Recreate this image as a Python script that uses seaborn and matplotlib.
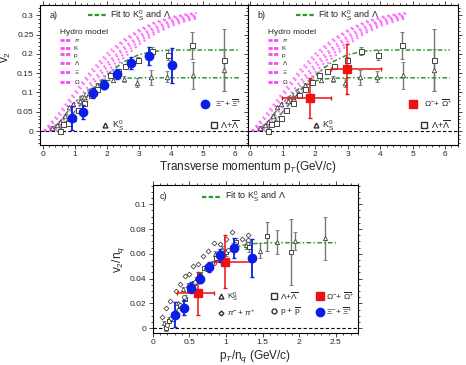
import numpy as np
import pandas as pd
import matplotlib.pyplot as plt
import seaborn as sns
from matplotlib.lines import Line2D

sns.set_theme(style="ticks")
plt.rcParams['font.family'] = ['Liberation Sans', 'DejaVu Sans']
plt.rcParams['mathtext.fontset'] = 'custom'
plt.rcParams['mathtext.rm'] = 'Liberation Sans'
plt.rcParams['mathtext.it'] = 'Liberation Sans:italic'
plt.rcParams['font.size'] = 6.5
plt.rcParams['xtick.labelsize'] = 6
plt.rcParams['ytick.labelsize'] = 6

# ---------------- data ----------------
# K0s (panel a/b)
k_pt = [0.31, 0.45, 0.55, 0.7, 0.81, 0.95, 1.17, 1.3, 1.46, 1.69, 1.9, 2.19, 2.55, 2.93, 3.38, 3.89, 4.69, 5.65]
k_v2 = [0.009, 0.015, 0.024, 0.04, 0.063, 0.07, 0.079, 0.087, 0.098, 0.12, 0.128, 0.132, 0.135, 0.125, 0.139, 0.141, 0.145, 0.158]
k_err = [0.003, 0.003, 0.003, 0.003, 0.003, 0.003, 0.003, 0.003, 0.004, 0.004, 0.005, 0.006, 0.007, 0.012, 0.02, 0.015, 0.035, 0.055]
# Lambda + anti-Lambda
l_pt = [0.55, 0.65, 0.8, 0.95, 1.1, 1.3, 1.5, 1.69, 1.9, 2.1, 2.35, 2.58, 2.98, 3.4, 3.92, 4.67, 5.65]
l_v2 = [0.0, 0.018, 0.022, 0.035, 0.055, 0.072, 0.093, 0.11, 0.128, 0.145, 0.155, 0.169, 0.184, 0.208, 0.197, 0.223, 0.184]
l_err = [0.006, 0.004, 0.004, 0.004, 0.004, 0.004, 0.004, 0.004, 0.005, 0.005, 0.006, 0.006, 0.008, 0.01, 0.012, 0.035, 0.08]
# Xi
xi_pt = [0.91, 1.27, 1.56, 1.92, 2.31, 2.77, 3.32, 4.05]
xi_v2 = [0.033, 0.05, 0.098, 0.12, 0.148, 0.177, 0.194, 0.17]
xi_err = [0.031, 0.018, 0.013, 0.011, 0.013, 0.016, 0.024, 0.046]
# Omega
om_pt = [1.85, 2.97]
om_v2 = [0.085, 0.161]
om_xlo = [0.88, 0.47]
om_xhi = [0.65, 1.05]
om_err = [0.052, 0.064]
# pions and protons (panel c, already scaled)
pi_x = [0.12, 0.18, 0.24, 0.31, 0.37, 0.44, 0.5, 0.55, 0.62, 0.68, 0.75, 0.84, 0.92, 1.0, 1.08, 1.22, 1.3]
pi_y = [0.009, 0.016, 0.022, 0.03, 0.036, 0.042, 0.044, 0.05, 0.052, 0.058, 0.062, 0.069, 0.068, 0.072, 0.078, 0.072, 0.075]
p_x = [0.2, 0.25, 0.3, 0.37, 0.43, 0.5, 0.57, 0.65, 0.73, 0.83, 0.93, 1.03, 1.12, 1.3]
p_y = [0.003, 0.008, 0.013, 0.019, 0.025, 0.031, 0.037, 0.042, 0.048, 0.053, 0.058, 0.063, 0.068, 0.071]

# fits
kfit_x = [0.3, 0.6, 1.0, 1.5, 2.0, 2.3, 2.6, 3.0, 4.0, 5.0, 6.15]
kfit_y = [0.0, 0.03, 0.075, 0.11, 0.13, 0.135, 0.137, 0.138, 0.138, 0.138, 0.138]
lfit_x = [0.5, 0.8, 1.2, 1.6, 2.0, 2.5, 3.0, 3.5, 4.0, 5.0, 6.15]
lfit_y = [0.0, 0.03, 0.07, 0.11, 0.145, 0.178, 0.198, 0.207, 0.21, 0.21, 0.21]
cfit_x = [0.15, 0.3, 0.5, 0.7, 0.9, 1.1, 1.3, 1.6, 2.0, 2.5]
cfit_y = [0.0, 0.012, 0.03, 0.047, 0.059, 0.065, 0.068, 0.069, 0.069, 0.069]

# hydro model curves
hydro_pt = [0.05, 0.5, 1.0, 1.5, 2.0, 2.5, 3.0, 3.5, 4.0, 4.5, 4.8]
hydro = {
    r'$\pi$': [0.0, 0.045, 0.1, 0.155, 0.2, 0.235, 0.262, 0.282, 0.295, 0.303, 0.306],
    'K': [0.0, 0.035, 0.09, 0.145, 0.19, 0.228, 0.257, 0.278, 0.292, 0.301, 0.304],
    'p': [0.0, 0.02, 0.07, 0.125, 0.175, 0.215, 0.247, 0.27, 0.286, 0.297, 0.3],
    r'$\Lambda$': [0.0, 0.015, 0.062, 0.115, 0.165, 0.208, 0.24, 0.265, 0.282, 0.294, 0.298],
    r'$\Xi$': [0.0, 0.008, 0.05, 0.102, 0.152, 0.197, 0.232, 0.258, 0.277, 0.29, 0.295],
    r'$\Omega$': [0.0, 0.002, 0.04, 0.09, 0.14, 0.187, 0.224, 0.252, 0.272, 0.286, 0.292],
}

GREEN = '#2e9a2e'
MAG = '#ff44ff'
GREY = '#777777'
BLUE = '#0a1ee8'
RED = '#ee1111'
FITLS = (0, (3, 1.5, 1, 1.5))

lab_k = r'K$_{\rm S}^{0}$'
lab_l = r'$\Lambda$+$\overline{\Lambda}$'
lab_xi = r'$\Xi^{-}$+ $\overline{\Xi}^{+}$'
lab_om = r'$\Omega^{-}$+ $\overline{\Omega}^{+}$'
lab_fit = r'Fit to K$_{\rm S}^{0}$ and $\Lambda$'

fig = plt.figure(figsize=(4.66, 3.65), dpi=100)
ax_a = fig.add_axes([0.0858, 0.603, 0.446, 0.3836])
ax_b = fig.add_axes([0.5318, 0.603, 0.451, 0.3836])
ax_c = fig.add_axes([0.328, 0.087, 0.44, 0.406])


def style_axis(ax):
    for s in ax.spines.values():
        s.set_linewidth(0.8)
        s.set_color('black')
    ax.minorticks_on()
    ax.tick_params(which='both', direction='out', top=True, right=True, width=0.6, pad=1.5)
    ax.tick_params(which='major', length=3)
    ax.tick_params(which='minor', length=1.5)


def top_panel(ax, letter, special):
    for name, vals in hydro.items():
        sns.lineplot(x=hydro_pt, y=vals, ax=ax, color=MAG, lw=1.5, ls=':', alpha=0.75)
    sns.lineplot(x=kfit_x, y=kfit_y, ax=ax, color=GREEN, lw=1.1, ls=FITLS)
    sns.lineplot(x=lfit_x, y=lfit_y, ax=ax, color=GREEN, lw=1.1, ls=FITLS)
    ax.axhline(0, color='black', lw=0.8, ls='--', dashes=(3, 2))
    ax.errorbar(k_pt, k_v2, yerr=k_err, fmt='^', ms=3.2, mfc='white', mec='#444444',
                mew=0.6, ecolor=GREY, elinewidth=1.0, capsize=1.2, zorder=4)
    ax.errorbar(l_pt, l_v2, yerr=l_err, fmt='s', ms=3.6, mfc='white', mec='#444444',
                mew=0.7, ecolor=GREY, elinewidth=1.0, capsize=1.2, zorder=4)
    if special == 'xi':
        ax.errorbar(xi_pt, xi_v2, yerr=xi_err, fmt='o', ms=6, color=BLUE,
                    elinewidth=1.3, capsize=1.5, zorder=6)
        sp = Line2D([], [], marker='o', ls='', ms=6, color=BLUE)
        sp_lab = lab_xi
    else:
        ax.errorbar(om_pt, om_v2, yerr=om_err, xerr=[om_xlo, om_xhi], fmt='s', ms=6,
                    color=RED, elinewidth=1.1, capsize=1.5, zorder=6)
        sp = Line2D([], [], marker='s', ls='', ms=6, color=RED)
        sp_lab = lab_om
    ax.set_xlim(-0.08, 6.4)
    ax.set_ylim(-0.036, 0.327)
    ax.set_xticks(range(0, 7))
    ax.set_yticks([0, 0.05, 0.1, 0.15, 0.2, 0.25, 0.3])
    ax.set_yticklabels(['0', '0.05', '0.1', '0.15', '0.2', '0.25', '0.3'])
    style_axis(ax)
    ax.text(0.045, 0.955, letter, transform=ax.transAxes, fontsize=6.5, va='top')

    leg1 = ax.legend([Line2D([], [], color=GREEN, lw=1.6, ls=(0, (2, 1)))], [lab_fit],
                     loc='upper left', bbox_to_anchor=(0.19, 1.03), frameon=False,
                     fontsize=6.5, handlelength=2.0, handletextpad=0.5)
    ax.add_artist(leg1)
    hh = [Line2D([], [], color=MAG, lw=2.0, ls=(0, (1.5, 0.5))) for _ in hydro]
    leg2 = ax.legend(hh, list(hydro.keys()), loc='upper left', bbox_to_anchor=(0.07, 0.87),
                     frameon=False, fontsize=4.5, handlelength=1.8, handletextpad=0.4,
                     labelspacing=0.22, title='Hydro model', title_fontsize=6)
    leg2._legend_box.align = 'left'
    ax.add_artist(leg2)
    leg3 = ax.legend([sp], [sp_lab], loc='center right', bbox_to_anchor=(1.01, 0.3),
                     frameon=False, fontsize=6, handletextpad=0.3)
    ax.add_artist(leg3)
    hk = Line2D([], [], marker='^', ls='', ms=3.5, mfc='white', mec='#333333')
    hl = Line2D([], [], marker='s', ls='', ms=4, mfc='white', mec='#333333')
    ax.legend([hk, hl], [lab_k, lab_l], ncol=2, loc='center right', bbox_to_anchor=(1.0, 0.14),
              frameon=False, fontsize=6.5, handletextpad=0.2, columnspacing=9.5, handlelength=1.0)


top_panel(ax_a, 'a)', 'xi')
top_panel(ax_b, 'b)', 'om')
ax_a.set_ylabel(r'v$_2$', fontsize=8.5)
ax_a.yaxis.set_label_coords(-0.13, 0.63)
ax_b.tick_params(labelleft=False)
fig.text(0.532, 0.543, r'Transverse momentum p$_T$(GeV/c)', ha='center', va='center', fontsize=8.5)

# ---------------- panel c ----------------
ax = ax_c
sns.lineplot(x=cfit_x, y=cfit_y, ax=ax, color=GREEN, lw=1.1, ls=FITLS)
ax.axhline(0, color='black', lw=0.8, ls='--', dashes=(3, 2))
ax.errorbar(np.array(k_pt) / 2, np.array(k_v2) / 2, yerr=np.array(k_err) / 2, fmt='^', ms=3,
            mfc='white', mec='#444444', mew=0.6, ecolor=GREY, elinewidth=1.0, capsize=1.2, zorder=4)
ax.errorbar(np.array(l_pt) / 3, np.array(l_v2) / 3, yerr=np.array(l_err) / 3, fmt='s', ms=3.4,
            mfc='white', mec='#444444', mew=0.7, ecolor=GREY, elinewidth=1.0, capsize=1.2, zorder=4)
sns.scatterplot(x=pi_x, y=pi_y, ax=ax, marker='D', s=6, facecolor='white', edgecolor='#444444',
                linewidth=0.6, zorder=5)
sns.scatterplot(x=p_x, y=p_y, ax=ax, marker='o', s=8, facecolor='white', edgecolor='#444444',
                linewidth=0.6, zorder=5)
ax.errorbar(np.array(om_pt) / 3, np.array(om_v2) / 3, yerr=np.array(om_err) / 3,
            xerr=[np.array(om_xlo) / 3, np.array(om_xhi) / 3], fmt='s', ms=6, color=RED,
            elinewidth=1.1, capsize=1.5, zorder=6)
ax.errorbar(np.array(xi_pt) / 3, np.array(xi_v2) / 3, yerr=np.array(xi_err) / 3, fmt='o', ms=6,
            color=BLUE, elinewidth=1.3, capsize=1.5, zorder=7)
ax.set_xlim(0, 2.8)
ax.set_ylim(-0.004, 0.1155)
ax.set_xticks([0, 0.5, 1, 1.5, 2, 2.5])
ax.set_xticklabels(['0', '0.5', '1', '1.5', '2', '2.5'])
ax.set_yticks([0, 0.02, 0.04, 0.06, 0.08, 0.1])
ax.set_yticklabels(['0', '0.02', '0.04', '0.06', '0.08', '0.1'])
style_axis(ax)
ax.set_xlabel(r'p$_T$/n$_q$ (GeV/c)', fontsize=8.5, labelpad=1)
ax.set_ylabel(r'v$_2$/n$_q$', fontsize=8.5, labelpad=2)
ax.text(0.035, 0.955, 'c)', transform=ax.transAxes, fontsize=6.5, va='top')
legc1 = ax.legend([Line2D([], [], color=GREEN, lw=1.6, ls=(0, (2, 1)))], [lab_fit],
                  loc='upper left', bbox_to_anchor=(0.2, 1.02), frameon=False, fontsize=6.5,
                  handlelength=2.0, handletextpad=0.5)
ax.add_artist(legc1)
hk = Line2D([], [], marker='^', ls='', ms=3.5, mfc='white', mec='#333333')
hpi = Line2D([], [], marker='D', ls='', ms=2.5, mfc='white', mec='#333333')
hl = Line2D([], [], marker='s', ls='', ms=4.5, mfc='white', mec='#333333')
hp = Line2D([], [], marker='o', ls='', ms=3.5, mfc='white', mec='#333333')
ho = Line2D([], [], marker='s', ls='', ms=6, color=RED)
hx = Line2D([], [], marker='o', ls='', ms=6, color=BLUE)
ax.legend([hk, hpi, hl, hp, ho, hx],
          [lab_k, r'$\pi^{-}+\pi^{+}$', lab_l, r'p + $\overline{\rm p}$', lab_om, lab_xi],
          ncol=3, loc='lower right', bbox_to_anchor=(1.02, 0.05), frameon=False, fontsize=6,
          handletextpad=0.2, columnspacing=1.8, handlelength=1.0, labelspacing=0.45)

fig.savefig('out.png', dpi=100)
